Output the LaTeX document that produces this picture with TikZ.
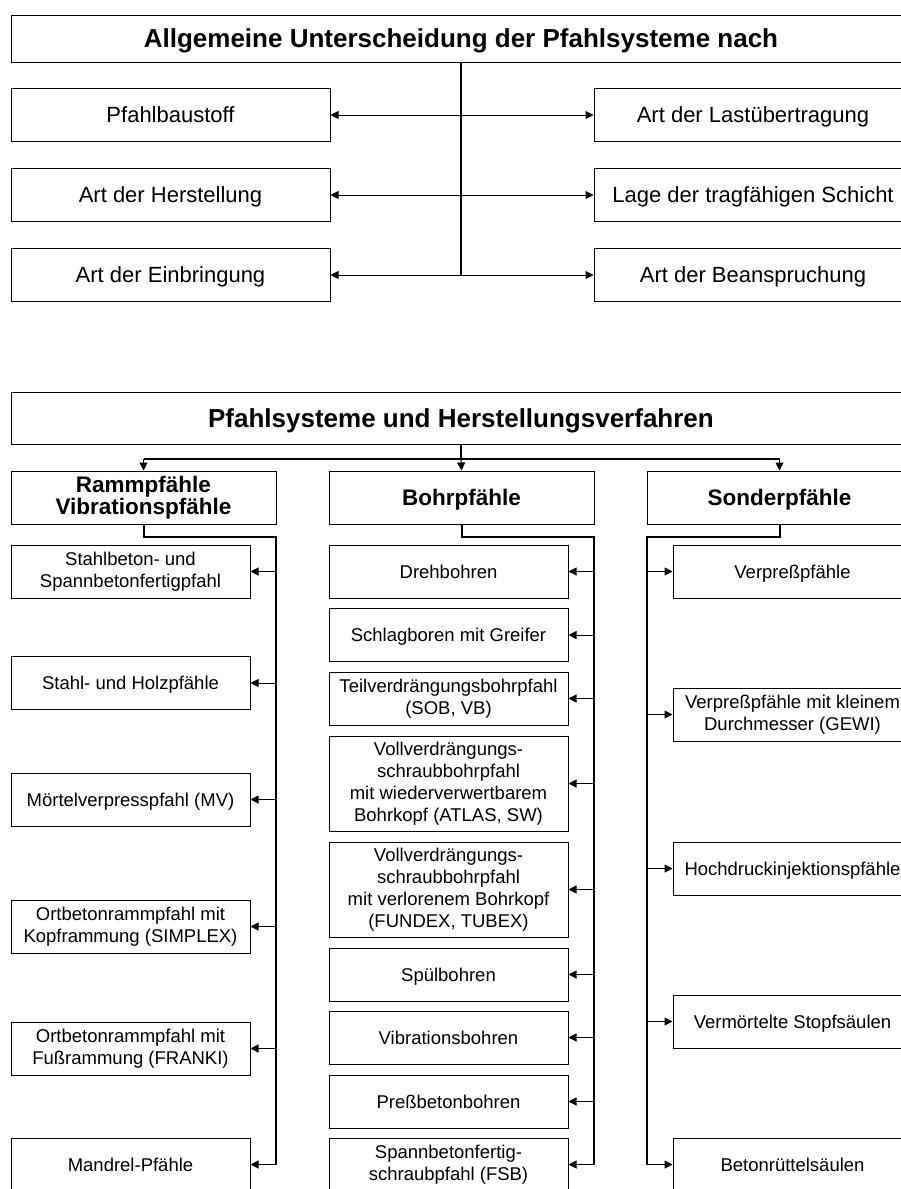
\documentclass[tikz,border=0pt]{standalone}
\usepackage{fontspec}
\setmainfont{Liberation Sans}
\usetikzlibrary{arrows.meta}
\newcommand{\capstrut}{\vrule width 0pt height 0.95em depth 0.234em\relax}
\tikzset{
  box/.style={draw=black, line width=1pt, rectangle, inner sep=0pt, align=center, text=black,
    execute at begin node={\capstrut}, execute at end node={\capstrut}},
  titlebox/.style={box, minimum width=900pt, font=\fontsize{26}{30}\selectfont\bfseries},
  topbox/.style={box, minimum width=319pt, minimum height=53pt, font=\fontsize{22}{26}\selectfont},
  headbox/.style={box, minimum width=265pt, minimum height=53pt, font=\fontsize{22.5}{22}\selectfont\bfseries},
  itembox/.style={box, minimum width=239pt, minimum height=53pt, font=\fontsize{18.5}{22}\selectfont},
  arr/.style={line width=1pt, -{Triangle[length=8pt,width=8pt]}},
  thinline/.style={line width=1.3pt},
  bus/.style={line width=2pt},
}
\begin{document}
\begin{tikzpicture}[x=1pt,y=-1pt]
\useasboundingbox (0,0) rectangle (901,1189);
\clip (0,0) rectangle (901,1189);
\fill[white] (0,0) rectangle (901,1189);

% ---------- upper section ----------
\node[titlebox, minimum height=47pt] (t1) at (461,38.5) {Allgemeine Unterscheidung der Pfahlsysteme nach};
\node[topbox] (pb) at (170.5,115) {Pfahlbaustoff};
\node[topbox] (ah) at (170.5,195) {Art der Herstellung};
\node[topbox] (ae) at (170.5,275) {Art der Einbringung};
\node[topbox, minimum width=318pt] (al) at (753,115) {Art der Lastübertragung};
\node[topbox, minimum width=318pt] (lt) at (753,195) {Lage der tragfähigen Schicht};
\node[topbox, minimum width=318pt] (ab) at (753,275) {Art der Beanspruchung};

\coordinate (c1) at (461,115);
\coordinate (c2) at (461,195);
\coordinate (c3) at (461,275);
\draw[thinline] (t1.south) -- (c3);
\draw[arr] (c1) -- (pb.east);
\draw[arr] (c1) -- (al.west);
\draw[arr] (c2) -- (ah.east);
\draw[arr] (c2) -- (lt.west);
\draw[arr] (c3) -- (ae.east);
\draw[arr] (c3) -- (ab.west);

% ---------- lower section ----------
\node[titlebox, minimum height=52pt] (t2) at (461,418) {Pfahlsysteme und Herstellungsverfahren};
\node[headbox] (h1) at (143.5,497.5) {Rammpfähle\\Vibrationspfähle};
\node[headbox] (h2) at (461.5,497.5) {Bohrpfähle};
\node[headbox] (h3) at (779.5,497.5) {Sonderpfähle};

\coordinate (d0) at (461,459);
\coordinate (dl) at (143.5,459);
\coordinate (dr) at (779.5,459);
\draw[thinline] (t2.south) -- (d0);
\draw[thinline] (dl) -- (dr);
\draw[arr] (dl) -- (h1.north);
\draw[arr] (d0) -- (h2.north);
\draw[arr] (dr) -- (h3.north);

% left column items
\node[itembox] (l1) at (130.5,571.5) {Stahlbeton- und\\Spannbetonfertigpfahl};
\node[itembox] (l2) at (130.5,683) {Stahl- und Holzpfähle};
\node[itembox] (l3) at (130.5,799.5) {Mörtelverpresspfahl (MV)};
\node[itembox] (l4) at (130.5,926.5) {Ortbetonrammpfahl mit\\Kopframmung (SIMPLEX)};
\node[itembox] (l5) at (130.5,1048.5) {Ortbetonrammpfahl mit\\Fußrammung (FRANKI)};
\node[itembox] (l6) at (130.5,1164.5) {Mandrel-Pfähle};

% middle column items
\node[itembox] (m1) at (448.5,571.5) {Drehbohren};
\node[itembox] (m2) at (448.5,635) {Schlagboren mit Greifer};
\node[itembox] (m3) at (448.5,698.5) {Teilverdrängungsbohrpfahl\\(SOB, VB)};
\node[itembox, minimum height=95pt] (m4) at (448.5,783.5) {Vollverdrängungs-\\schraubbohrpfahl\\mit wiederverwertbarem\\Bohrkopf (ATLAS, SW)};
\node[itembox, minimum height=95pt] (m5) at (448.5,889.5) {Vollverdrängungs-\\schraubbohrpfahl\\mit verlorenem Bohrkopf\\(FUNDEX, TUBEX)};
\node[itembox] (m6) at (448.5,974.5) {Spülbohren};
\node[itembox] (m7) at (448.5,1037.5) {Vibrationsbohren};
\node[itembox] (m8) at (448.5,1101.5) {Preßbetonbohren};
\node[itembox] (m9) at (448.5,1164.5) {Spannbetonfertig-\\schraubpfahl (FSB)};

% right column items
\node[itembox] (r1) at (792.5,571.5) {Verpreßpfähle};
\node[itembox] (r2) at (792.5,714.5) {Verpreßpfähle mit kleinem\\Durchmesser (GEWI)};
\node[itembox] (r3) at (792.5,868.5) {Hochdruckinjektionspfähle};
\node[itembox] (r4) at (792.5,1021.5) {Vermörtelte Stopfsäulen};
\node[itembox] (r5) at (792.5,1164.5) {Betonrüttelsäulen};

% buses
\coordinate (lj) at (143.5,537);
\coordinate (lb) at (276,537);
\coordinate (mj) at (461.5,537);
\coordinate (mb) at (594,537);
\coordinate (rj) at (779.5,537);
\coordinate (rb) at (647,537);

\draw[bus] (h1.south) -- (lj) -- (lb) -- (lb |- l6.east);
\draw[bus] (h2.south) -- (mj) -- (mb) -- (mb |- m9.east);
\draw[bus] (h3.south) -- (rj) -- (rb) -- (rb |- r5.west);

\foreach \n in {l1,l2,l3,l4,l5,l6} { \draw[arr] (lb |- \n.east) -- (\n.east); }
\foreach \n in {m1,m2,m3,m4,m5,m6,m7,m8,m9} { \draw[arr] (mb |- \n.east) -- (\n.east); }
\foreach \n in {r1,r2,r3,r4,r5} { \draw[arr] (rb |- \n.west) -- (\n.west); }
\end{tikzpicture}
\end{document}
